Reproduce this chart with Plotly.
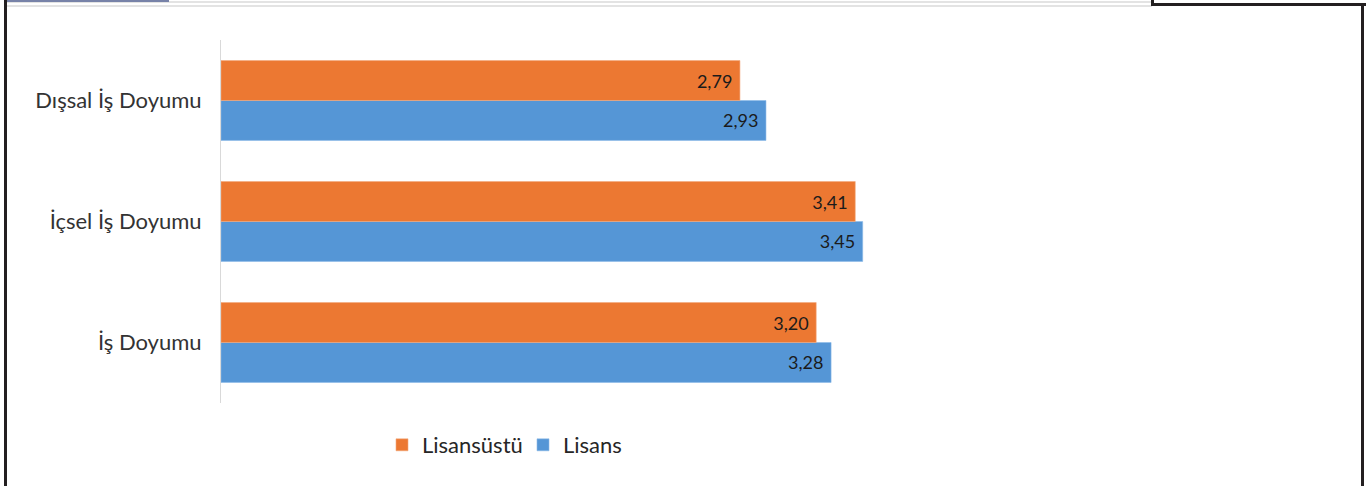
import plotly.graph_objects as go

# Categories (bottom to top as drawn on the y axis)
categories = ["İş Doyumu", "İçsel İş Doyumu", "Dışsal İş Doyumu"]
lisans = [3.28, 3.45, 2.93]
lisansustu = [3.20, 3.41, 2.79]

W, H = 1371, 486
ML, MT, MR, MB = 221, 40, 406, 83
PW, PH = W - ML - MR, H - MT - MB

FONT = "Lato"


def px(x):
    return (x - ML) / PW


def py(y):
    return (H - MB - y) / PH


fig = go.Figure()
fig.add_trace(go.Bar(
    y=categories, x=lisans, name="Lisans", orientation="h",
    marker=dict(color="#5596D6", line=dict(color="#8DBBE8", width=0.6)),
    texttemplate="%{x:.2f}\u00a0", textposition="inside",
    insidetextanchor="end", textfont=dict(family=FONT, size=18, color="#1b1b1b"),
    hoverinfo="skip",
))
fig.add_trace(go.Bar(
    y=categories, x=lisansustu, name="Lisansüstü", orientation="h",
    marker=dict(color="#EC7832", line=dict(color="#F4AA7E", width=0.6)),
    texttemplate="%{x:.2f}\u00a0", textposition="inside",
    insidetextanchor="end", textfont=dict(family=FONT, size=18, color="#1b1b1b"),
    hoverinfo="skip",
))

# Page frame decorations
frame = [
    dict(x0=4, x1=7, y0=0, y1=486, color="#231f20"),          # left border
    dict(x0=7, x1=1152, y0=1.5, y1=2.5, color="#c8c8c8"),     # top rule 1
    dict(x0=7, x1=1152, y0=5.5, y1=6.5, color="#c8c8c8"),     # top rule 2
    dict(x0=7, x1=169, y0=0, y1=2, color="#7782a8"),          # tab
    dict(x0=1151, x1=1154, y0=0, y1=6, color="#231f20"),      # right step
    dict(x0=1151, x1=1366, y0=3, y1=6, color="#231f20"),      # top right rule
    dict(x0=1361, x1=1364, y0=3, y1=486, color="#231f20"),    # right border
]
shapes = [
    dict(type="rect", xref="paper", yref="paper",
         x0=px(f["x0"]), x1=px(f["x1"]), y0=py(f["y1"]), y1=py(f["y0"]),
         fillcolor=f["color"], line=dict(width=0), layer="above")
    for f in frame
]

fig.update_layout(
    width=W, height=H,
    margin=dict(l=ML, r=MR, t=MT, b=MB, autoexpand=False),
    paper_bgcolor="white", plot_bgcolor="white",
    barmode="group", bargap=0.34, bargroupgap=0,
    separators=",.",
    font=dict(family=FONT, color="#404040"),
    showlegend=True,
    legend=dict(orientation="h", x=px(382), xanchor="left", y=py(445), yanchor="middle",
                traceorder="reversed", font=dict(family=FONT, size=22, color="#262626"),
                entrywidth=96, entrywidthmode="pixels",
                itemclick=False, itemdoubleclick=False),
    xaxis=dict(range=[0, 4], visible=False, fixedrange=True),
    yaxis=dict(showline=True, linecolor="#d9d9d9", linewidth=1, ticks="",
               showgrid=False, zeroline=False, ticklabelstandoff=14,
               tickfont=dict(family=FONT, size=22, color="#333333"), fixedrange=True),
    shapes=shapes,
)

fig.write_html("out.html", config={"displayModeBar": False})
